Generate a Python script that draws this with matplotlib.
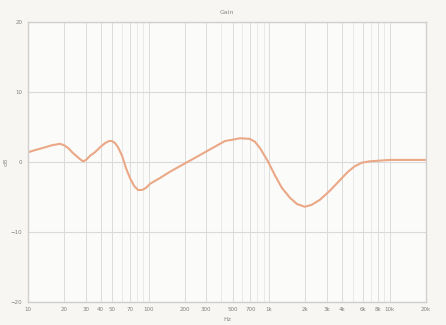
import numpy as np
import matplotlib.pyplot as plt
from matplotlib.ticker import FixedLocator

# Частотна характеристика еквалайзера (Гц -> дБ)
freqs = [10, 11.4, 13.8, 15.8, 18.4, 19.9, 21.5, 23.2, 25.0, 27.0, 28.6, 30.3,
         32.7, 35.9, 39.5, 43.5, 47.0, 49.7, 52.7, 55.8, 60.2, 65.0, 70.1,
         75.7, 81.7, 88.2, 95.1, 103, 124, 150, 267, 430, 501, 573, 693,
         762, 839, 977, 1117, 1276, 1487, 1701, 1980, 2265, 2637, 3193,
         3864, 4501, 5143, 5883, 6850, 10040, 20000]
gains = [1.4, 1.7, 2.1, 2.4, 2.6, 2.4, 2.0, 1.4, 0.9, 0.4, 0.1, 0.3,
         0.9, 1.4, 2.1, 2.7, 3.0, 3.0, 2.7, 2.1, 0.9, -0.9, -2.3,
         -3.4, -4.0, -4.0, -3.7, -3.1, -2.3, -1.4, 1.0, 3.0, 3.2, 3.4, 3.3,
         2.9, 2.0, 0.1, -1.9, -3.7, -5.1, -6.0, -6.4, -6.1, -5.4, -4.1,
         -2.6, -1.4, -0.6, -0.1, 0.1, 0.3, 0.3]

xticks = [10, 20, 30, 40, 50, 70, 100, 200, 300, 500, 700,
          1000, 2000, 3000, 4000, 6000, 8000, 10000, 20000]
xlabels = ['10', '20', '30', '40', '50', '70', '100', '200', '300', '500', '700',
           '1k', '2k', '3k', '4k', '6k', '8k', '10k', '20k']
yticks = [-20, -10, 0, 10, 20]

# сітка: всі значення 1..9 у кожній декаді
minor = [m * 10 ** d for d in range(1, 5) for m in range(1, 10)
         if 10 <= m * 10 ** d <= 20000 and m * 10 ** d not in xticks]

fig = plt.figure(figsize=(4.46, 3.25), dpi=100, facecolor='#f7f6f2')
ax = fig.add_axes([0.063, 0.071, 0.892, 0.861])
ax.set_facecolor('#fbfbf9')

ax.plot(freqs, gains, color='#eaa886', lw=1.5, solid_capstyle='round',
        solid_joinstyle='round')

ax.set_xscale('log')
ax.set_xlim(10, 20000)
ax.set_ylim(-20, 20)
ax.xaxis.set_major_locator(FixedLocator(xticks))
ax.xaxis.set_minor_locator(FixedLocator(minor))
ax.set_xticklabels(xlabels)
ax.set_yticks(yticks)
ax.tick_params(which='both', labelsize=4, colors='#808080', length=0, pad=4)

ax.grid(True, which='major', axis='x', color='#d6d6d6', lw=0.6)
ax.grid(True, which='minor', axis='x', color='#e4e4e4', lw=0.5)
ax.grid(True, which='major', axis='y', color='#dadada', lw=0.8)
for s in ax.spines.values():
    s.set_color('#cfcfcf')
    s.set_linewidth(1.0)

ax.set_title('Gain', fontsize=4.5, color='#888888', pad=6)
ax.set_xlabel('Hz', fontsize=4.5, color='#888888', labelpad=3)
ax.set_ylabel('dB', fontsize=4.5, color='#888888', labelpad=2)

fig.savefig('out.png', dpi=100, facecolor=fig.get_facecolor())
